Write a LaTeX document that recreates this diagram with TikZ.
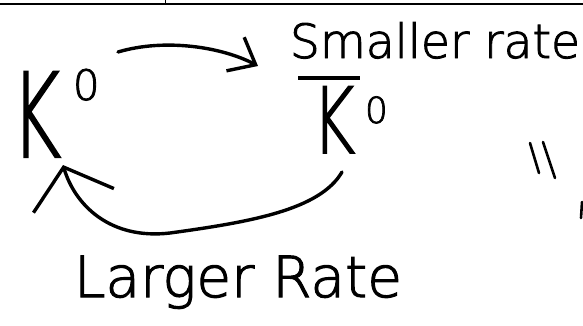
\documentclass[tikz,border=0pt]{standalone}
\usepackage{fontspec}
\setmainfont{DejaVuSans-ExtraLight.ttf}[FakeBold=2]
\usetikzlibrary{arrows.meta}
\begin{document}
\begin{tikzpicture}[x=1pt,y=-1pt,
  stroke/.style={line width=3.4pt, line cap=round, line join=round},
  thin stroke/.style={line width=2.6pt, line cap=round},
  lbl/.style={inner sep=0pt, outer sep=0pt, anchor=base west},
  txt/.style={inner sep=0pt, outer sep=0pt, anchor=base}]
\useasboundingbox (0,0) rectangle (583,325);
\fill[white] (0,0) rectangle (583,325);
% top rule of the page
\draw[line width=1.6pt] (0,4) -- (583,4);
\draw[line width=1pt] (165,0) -- (165,5);
% particles
\node[lbl] (k0) at (11,157) {\bfseries\fontsize{117}{117}\selectfont\scalebox{0.65}[1]{K}\hspace{12pt}\raisebox{57pt}{\fontsize{42}{42}\selectfont 0}};
\node[lbl] (kb) at (298,153) {\bfseries\makebox[0pt][l]{\raisebox{73.5pt}{\rule{62pt}{3.5pt}}}\hspace{14pt}\fontsize{91}{91}\selectfont\scalebox{0.72}[1]{K}\hspace{10pt}\raisebox{30pt}{\fontsize{36}{36}\selectfont 0}};
% labels
\node[txt] (sr) at (435,58) {\bfseries\resizebox{290pt}{!}{Smaller rate}};
\node[txt] (lr) at (238,297) {\bfseries\resizebox{328pt}{!}{Larger Rate}};
% arrow endpoints
\coordinate (a1s) at (118,52);
\coordinate (a1e) at (258,66);
\coordinate (b1s) at (342,172);
\coordinate (b1e) at (63,165);
% K0 -> K0bar
\draw[stroke, -{Straight Barb[length=23pt,width=38pt]}] (a1s) .. controls (165,38) and (222,47) .. (a1e);
% K0bar -> K0
\draw[stroke, -{Straight Barb[length=35pt,width=84pt]}] (b1s) .. controls (320,210) and (250,222) .. (170,233) .. controls (110,240) and (75,205) .. (b1e);
% marks at right
\draw[thin stroke] (530,143) -- (539,173);
\draw[thin stroke] (543,142) -- (555,178);
\draw[thin stroke] (582,202) -- (581,218);
\end{tikzpicture}
\end{document}
